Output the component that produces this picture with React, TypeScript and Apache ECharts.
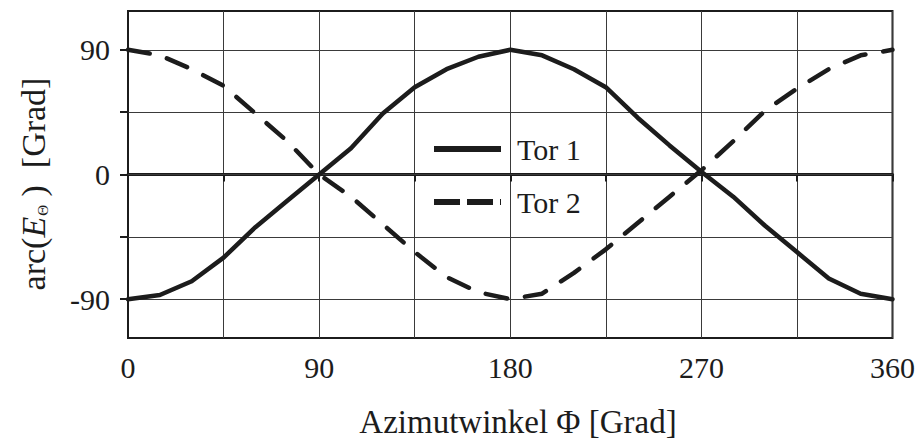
import React, { useEffect, useRef } from "react";
import * as echarts from "echarts";

// Azimuth angle in degrees (sample points every 15°)
const azimuth = [
  0, 15, 30, 45, 60, 75, 90, 105, 120, 135, 150, 165, 180,
  195, 210, 225, 240, 255, 270, 285, 300, 315, 330, 345, 360,
];

// Phase of E_Θ for gate 1 (solid) and gate 2 (dashed), degrees
const tor1 = [
  -90, -87, -77, -60, -38, -19, 0, 19, 44, 63, 76, 85, 90,
  86, 76, 63, 41, 21, 2, -16, -37, -56, -75, -86, -90,
];
const tor2 = [
  90, 86, 76, 64, 44, 24, 0, -16, -36, -56, -74, -85, -90,
  -86, -71, -54, -35, -16, 3, 24, 46, 62, 76, 86, 90,
];

const seriesNames = ["Tor 1", "Tor 2"];
const yGridValues = [-90, -45, 0, 45, 90];
const yLabelValues = [-90, 0, 90];

const FONT = "Liberation Serif";
const INK = "#1c1c1c";

export default function App() {
  const ref = useRef<HTMLDivElement>(null);

  useEffect(() => {
    if (!ref.current) return;
    const chart = echarts.init(ref.current, null, { renderer: "svg" });

    const pairs = (ys: number[]) => azimuth.map((x, i) => [x, ys[i]]);
    const legendText = {
      fontFamily: FONT,
      fontSize: 30,
      color: INK,
      padding: [0, 0, 0, 11],
    };

    chart.setOption({
      animation: false,
      backgroundColor: "#ffffff",
      textStyle: { fontFamily: FONT },
      grid: {
        left: 128,
        right: 25,
        top: 11,
        bottom: 101,
        show: true,
        borderColor: INK,
        borderWidth: 2,
        backgroundColor: "transparent",
      },
      legend: {
        orient: "vertical",
        left: 426,
        top: 129,
        itemWidth: 67,
        itemHeight: 20,
        itemGap: 23,
        textStyle: legendText,
        data: [
          {
            name: seriesNames[0],
            textStyle: legendText,
            itemStyle: { opacity: 0 },
            lineStyle: { width: 6, type: "solid", color: INK, cap: "butt" },
          },
          {
            name: seriesNames[1],
            textStyle: legendText,
            itemStyle: { opacity: 0 },
            lineStyle: { width: 6, type: [26, 7], color: INK, cap: "butt" },
          },
        ],
      },
      xAxis: {
        type: "value",
        min: 0,
        max: 360,
        interval: 45,
        axisLine: { show: true, lineStyle: { color: INK, width: 3 } },
        axisTick: {
          show: true,
          length: 7,
          lineStyle: { color: INK, width: 2 },
        },
        axisLabel: {
          fontFamily: FONT,
          fontSize: 30,
          color: INK,
          margin: 14,
          formatter: (v: number) => (v % 90 === 0 ? String(v) : ""),
        },
        splitLine: { show: true, lineStyle: { color: "#3a3a3a", width: 1 } },
      },
      yAxis: {
        type: "value",
        min: -118,
        max: 118,
        axisLine: { show: true, lineStyle: { color: INK, width: 2 } },
        axisTick: {
          show: true,
          length: 8,
          customValues: yGridValues,
          lineStyle: { color: INK, width: 2 },
        },
        axisLabel: {
          fontFamily: FONT,
          fontSize: 30,
          color: INK,
          margin: 18,
          customValues: yLabelValues,
        },
        splitLine: { show: false },
      },
      graphic: [
        {
          type: "text",
          x: 518,
          y: 422,
          style: {
            text: "Azimutwinkel Φ [Grad]",
            font: `33px ${FONT}`,
            fill: INK,
            align: "center",
            verticalAlign: "middle",
          },
        },
        {
          type: "text",
          x: 33,
          y: 184,
          rotation: Math.PI / 2,
          style: {
            text: "{a|arc(}{e|E}{s|Θ}{a| )  [Grad]}",
            align: "center",
            verticalAlign: "middle",
            fill: INK,
            rich: {
              a: { fontFamily: FONT, fontSize: 34, fill: INK, verticalAlign: "bottom" },
              e: {
                fontFamily: FONT,
                fontSize: 34,
                fontStyle: "italic",
                fill: INK,
                verticalAlign: "bottom",
              },
              s: {
                fontFamily: FONT,
                fontSize: 15,
                fill: INK,
                verticalAlign: "bottom",
                padding: [0, 0, 0, 1],
              },
            },
          },
        },
      ],
      series: [
        {
          name: seriesNames[0],
          type: "line",
          data: pairs(tor1),
          symbol: "none",
          z: 3,
          lineStyle: { color: INK, width: 4.5, join: "round", cap: "round" },
          markLine: {
            silent: true,
            symbol: "none",
            z: 1,
            label: { show: false },
            lineStyle: { color: "#3a3a3a", width: 1, type: "solid" },
            data: yGridValues.map((v) => ({ yAxis: v })),
          },
        },
        {
          name: seriesNames[1],
          type: "line",
          data: pairs(tor2),
          symbol: "none",
          z: 3,
          lineStyle: {
            color: INK,
            width: 4.5,
            type: [22, 18],
            join: "round",
            cap: "round",
          },
        },
      ],
    });

    return () => chart.dispose();
  }, []);

  return <div ref={ref} style={{ width: 918, height: 439, position: "absolute", left: 0, top: 0 }} />;
}
